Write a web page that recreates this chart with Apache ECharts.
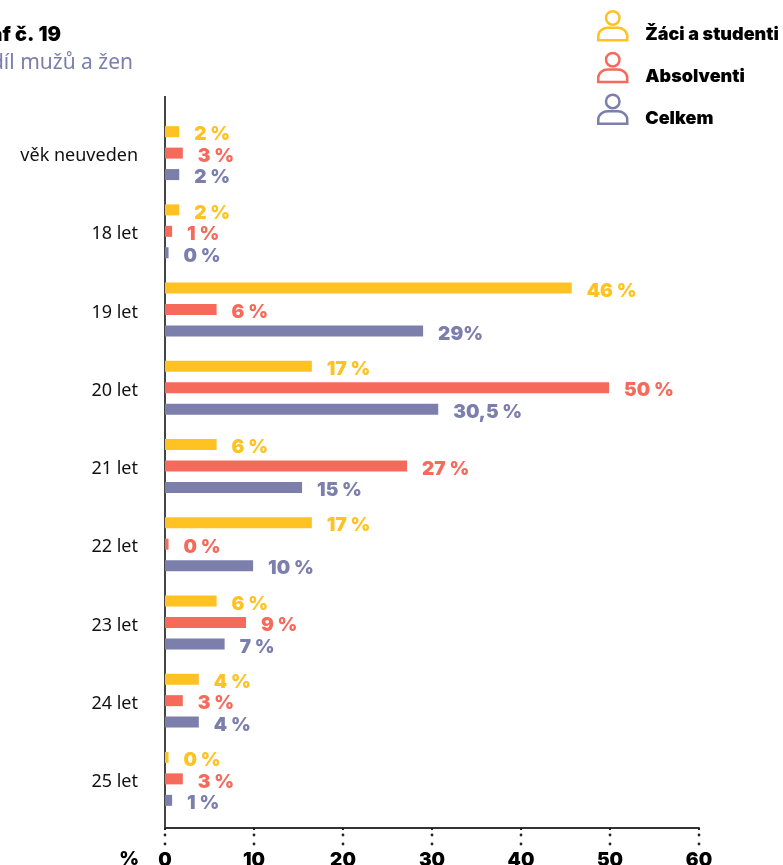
<!DOCTYPE html>
<html>
<head>
<meta charset="utf-8">
<style>
    html, body { margin: 0; padding: 0; background: #fff; overflow: hidden; }
    #chart { width: 783px; height: 865px; }
</style>
<script src="https://cdn.jsdelivr.net/npm/echarts@6/dist/echarts.min.js"></script>
</head>
<body>
<div id="chart"></div>
<script>
// graf č. 19 - věk respondentů
const categories = ['věk neuveden', '18 let', '19 let', '20 let', '21 let', '22 let', '23 let', '24 let', '25 let'];
const seriesNames = ['Žáci a studenti', 'Absolventi', 'Celkem'];
const zaciValues = [1.6, 1.6, 45.7, 16.5, 5.8, 16.5, 5.8, 3.8, 0.4];
const absolventiValues = [2, 0.8, 5.8, 49.9, 27.2, 0.4, 9.1, 2, 2];
const celkemValues = [1.6, 0.4, 29, 30.7, 15.4, 9.9, 6.7, 3.8, 0.8];
const zaciLabels = ['2 %', '2 %', '46 %', '17 %', '6 %', '17 %', '6 %', '4 %', '0 %'];
const absolventiLabels = ['3 %', '1 %', '6 %', '50 %', '27 %', '0 %', '9 %', '3 %', '3 %'];
const celkemLabels = ['2 %', '0 %', '29%', '30,5 %', '15 %', '10 %', '7 %', '4 %', '1 %'];
const xTickValues = [0, 10, 20, 30, 40, 50, 60];

const colors = ['#ffc222', '#f66a5b', '#7c7fac'];
const heavyFont = 'Inter';
// ikona osoby v legendě
const personIcon = 'path://M15 1a6.5 6.5 0 1 0 0 13a6.5 6.5 0 1 0 0-13zM1 29v-4c0-5 5-8 9-8h10c4 0 9 3 9 8v4z';

function makeSeries(name, values, labels, color) {
    return {
        name: name,
        type: 'bar',
        data: values,
        barWidth: 11,
        barGap: '95%',
        itemStyle: { color: color },
        label: {
            show: true,
            position: 'right',
            distance: 15,
            offset: [0, 3],
            color: color,
            fontFamily: heavyFont,
            fontWeight: 900,
            fontSize: 19,
            formatter: (p) => labels[p.dataIndex]
        }
    };
}

const chart = echarts.init(document.getElementById('chart'));
chart.setOption({
    animation: false,
    color: colors,
    title: [
        {
            text: 'Graf č. 19',
            left: 61,
            top: 25,
            padding: 0,
            textAlign: 'right',
            textStyle: { fontFamily: heavyFont, fontWeight: 900, fontSize: 20, color: '#000' }
        },
        {
            text: 'Podíl mužů a žen',
            left: 133,
            top: 53,
            padding: 0,
            textAlign: 'right',
            textStyle: { fontFamily: 'Noto Sans', fontWeight: 400, fontSize: 21, color: '#7c7fac' }
        }
    ],
    legend: {
        orient: 'vertical',
        left: 597,
        top: 10,
        padding: 0,
        itemWidth: 31,
        itemHeight: 29,
        itemGap: 8,
        icon: personIcon,
        formatter: '{a|{name}}',
        textStyle: {
            rich: {
                a: { fontFamily: heavyFont, fontWeight: 900, fontSize: 18, color: '#000', padding: [18, 0, 0, 12] }
            }
        },
        data: seriesNames.map((name, i) => ({
            name: name,
            itemStyle: { color: 'transparent', borderColor: colors[i], borderWidth: 2.5 }
        }))
    },
    grid: { left: 165, right: 84, top: 114, bottom: 47, outerBoundsMode: 'none' },
    xAxis: {
        type: 'value',
        min: xTickValues[0],
        max: xTickValues[xTickValues.length - 1],
        interval: xTickValues[1] - xTickValues[0],
        offset: 10,
        name: '%',
        nameLocation: 'start',
        nameGap: 26,
        nameMoveOverlap: false,
        nameTextStyle: { fontFamily: heavyFont, fontWeight: 900, fontSize: 19, color: '#000', verticalAlign: 'top', padding: [22, 0, 0, 0] },
        axisLine: { show: true, lineStyle: { color: '#333', width: 2 } },
        axisTick: { show: true, length: 2, lineStyle: { color: '#222', width: 2 } },
        axisLabel: { margin: 23, fontFamily: heavyFont, fontWeight: 900, fontSize: 19, color: '#000' },
        splitLine: { show: false }
    },
    yAxis: {
        type: 'category',
        inverse: true,
        data: categories,
        axisLine: { show: false },
        axisTick: { show: false },
        axisLabel: {
            margin: 27,
            formatter: '{a|{value}}',
            rich: {
                a: { fontFamily: 'Noto Sans', fontSize: 18, color: '#111', padding: [6, 0, 0, 0] }
            }
        }
    },
    series: [
        makeSeries(seriesNames[0], zaciValues, zaciLabels, colors[0]),
        makeSeries(seriesNames[1], absolventiValues, absolventiLabels, colors[1]),
        makeSeries(seriesNames[2], celkemValues, celkemLabels, colors[2])
    ]
});

// svislá osa a tečky pod značkami vodorovné osy
const dots = [];
xTickValues.forEach((t) => {
    const x = chart.convertToPixel({ xAxisIndex: 0 }, t);
    [835, 844].forEach((y) => {
        dots.push({
            type: 'circle',
            z: 50,
            shape: { cx: x, cy: y, r: 1.4 },
            style: { fill: '#222' }
        });
    });
});
chart.setOption({
    graphic: [
        {
            type: 'line',
            shape: { x1: 165, y1: 96, x2: 165, y2: 829 },
            style: { stroke: '#444', lineWidth: 2 }
        }
    ].concat(dots)
});
</script>
</body>
</html>
